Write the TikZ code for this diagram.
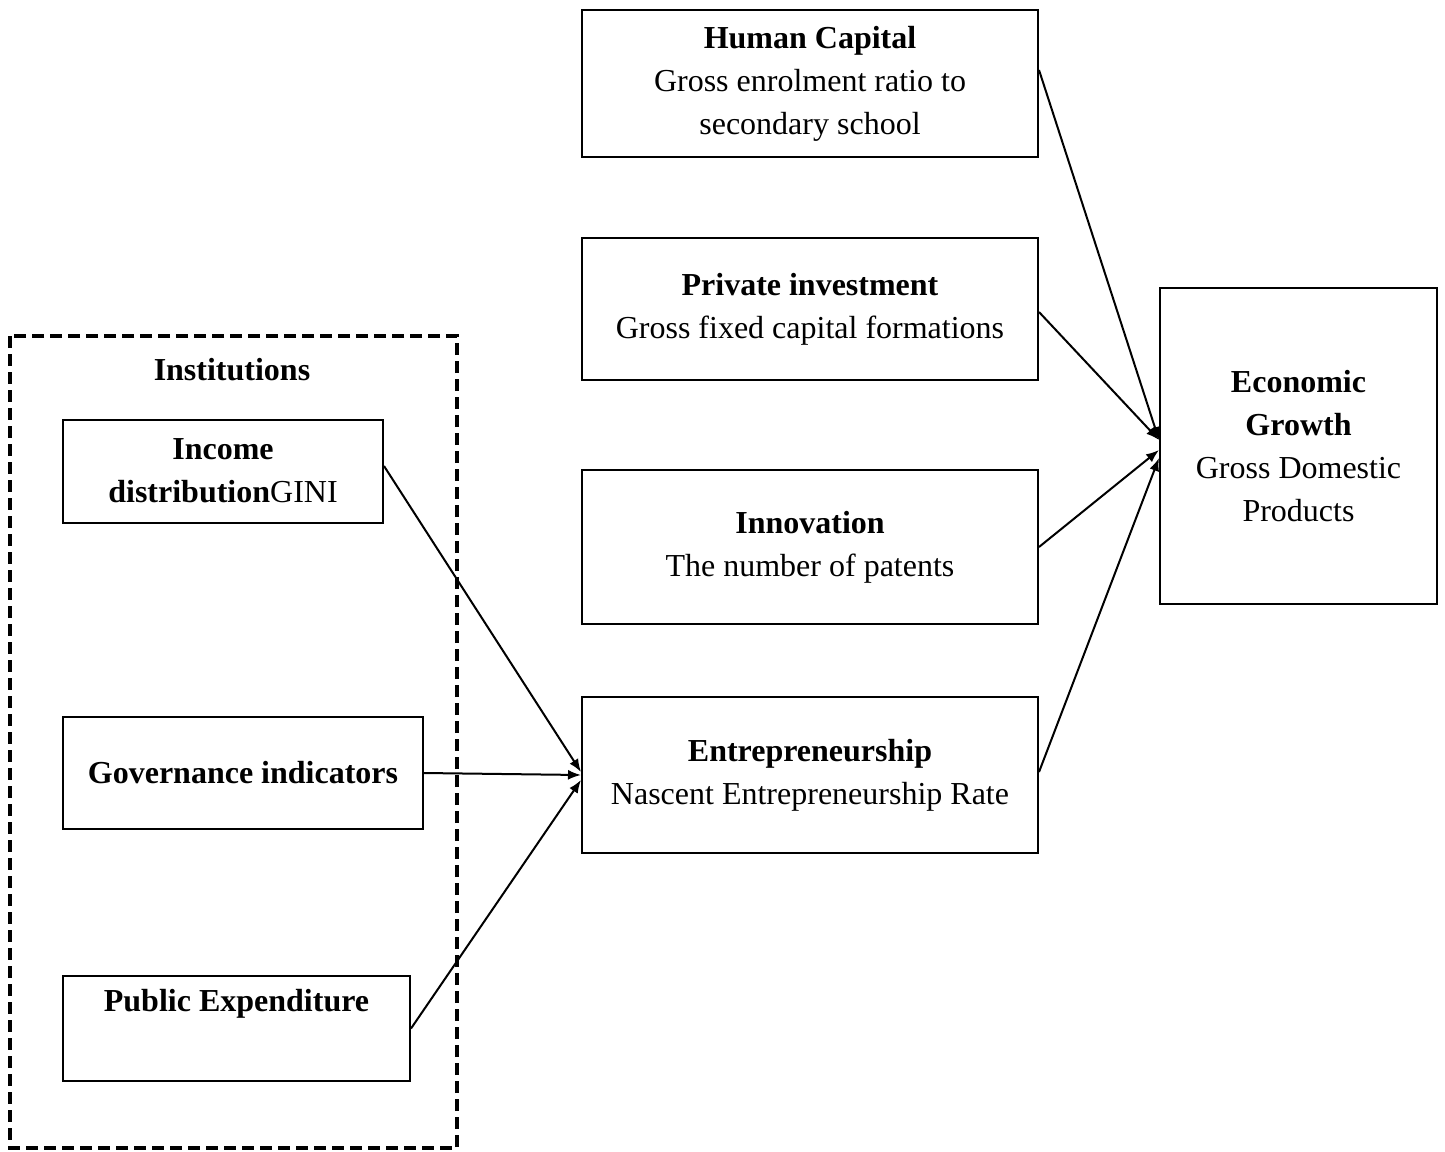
\documentclass[tikz,border=0pt]{standalone}
\usepackage{fontspec}
\setmainfont{Liberation Serif}
\usetikzlibrary{arrows.meta, positioning}

\begin{document}
\begin{tikzpicture}[
    x=0.5pt, y=-0.5pt,
    >={Latex[length=6.5pt, width=5pt]},
    box/.style={draw, line width=1pt, align=center, inner sep=0pt,
      font=\fontsize{16}{21.5}\selectfont},
    link/.style={->, line width=1pt}
  ]
    \useasboundingbox (0,0) rectangle (1445,1151);

    % institutions group
    \draw[line width=1.6pt, dash pattern=on 6pt off 3pt] (10,336) rectangle (457,1148);
    \node[font=\fontsize{16}{21.5}\selectfont\bfseries] (inst) at (232,370) {Institutions};
    \node[box, minimum width=160pt, minimum height=51.5pt] (inc) at (223,471)
      {\textbf{Income}\\\textbf{distribution}GINI};
    \node[box, minimum width=180pt, minimum height=56pt] (gov) at (243,773)
      {\textbf{Governance indicators}};
    \node[box, minimum width=173.5pt, minimum height=52.5pt] (pub) at (236.5,1028.5)
      {\textbf{Public Expenditure}\\\strut};

    % determinants
    \node[box, minimum width=228pt, minimum height=73.5pt] (hc) at (810,83.5)
      {\textbf{Human Capital}\\Gross enrolment ratio to\\secondary school};
    \node[box, minimum width=228pt, minimum height=71pt] (pi) at (810,309)
      {\textbf{Private investment}\\Gross fixed capital formations};
    \node[box, minimum width=228pt, minimum height=77pt] (inn) at (810,547)
      {\textbf{Innovation}\\The number of patents};
    \node[box, minimum width=228pt, minimum height=78pt] (ent) at (810,775)
      {\textbf{Entrepreneurship}\\Nascent Entrepreneurship Rate};

    % outcome
    \node[box, minimum width=138.5pt, minimum height=158pt] (eg) at (1298.5,446)
      {\textbf{Economic}\\\textbf{Growth}\\Gross Domestic\\Products};

    % arrows
    \draw[link] ([yshift=6.75pt]hc.east) -- ([yshift=3pt]eg.west);
    \draw[link] ([yshift=-1.5pt]pi.east) -- ([yshift=3pt]eg.west);
    \draw[link] (inn.east) -- ([yshift=-2pt]eg.west);
    \draw[link] ([yshift=1.5pt]ent.east) -- ([yshift=-6pt]eg.west);
    \draw[link] ([yshift=2.5pt]inc.east) -- ([yshift=1.5pt]ent.west);
    \draw[link] (gov.east) -- (ent.west);
    \draw[link] (pub.east) -- ([yshift=-2.5pt]ent.west);
  \end{tikzpicture}
\end{document}
